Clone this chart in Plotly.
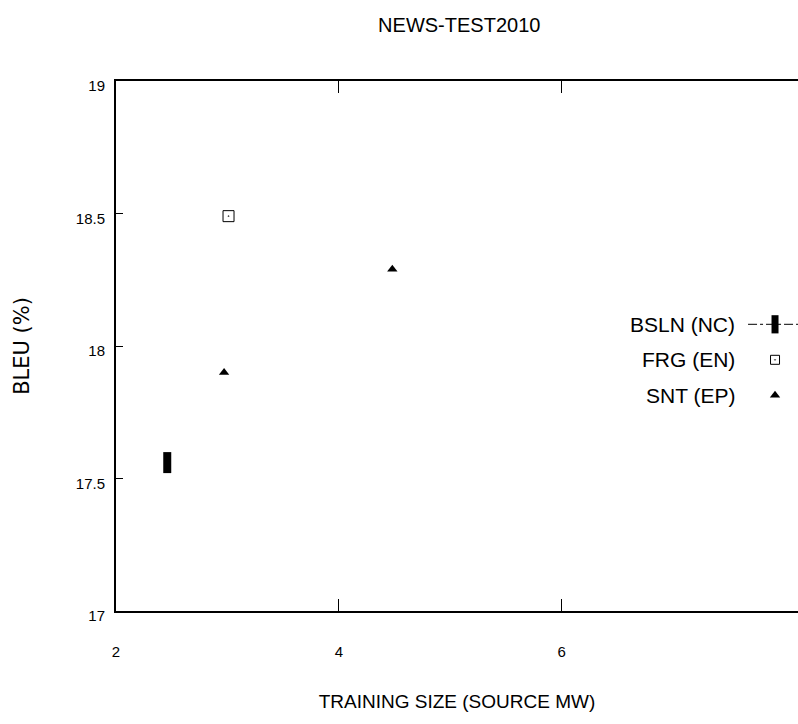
import plotly.graph_objects as go

# ---- data ----
series_names = ["BSLN (NC)", "FRG (EN)", "SNT (EP)"]
bsln_x = [2.46]
bsln_y = [17.56]
frg_x = [3.01]
frg_y = [18.49]
snt_x = [2.97, 4.48]
snt_y = [17.90, 18.29]
x_ticks = [2, 4, 6]
y_ticks = [17, 17.5, 18, 18.5, 19]
y_tick_text = ["17", "17.5", "18", "18.5", "19"]

SANS = "Liberation Sans, Arial, sans-serif"

W, H = 798, 724
L = 115.5
T = 80.7
R = 0
B = H - 610.7
plot_w = W - L - R
plot_h = H - T - B

styles = [
    dict(mode="lines+markers", line=dict(color="black", width=1, dash="dashdot"),
         marker=dict(symbol="line-ns", size=15, color="black", line=dict(width=8, color="black"))),
    dict(mode="markers",
         marker=dict(symbol="square-open-dot", size=11, color="black", line=dict(width=1, color="black"))),
    dict(mode="markers",
         marker=dict(symbol="triangle-up", size=9, color="black", line=dict(width=0))),
]
legend_styles = [
    dict(symbol="line-ns", size=13, color="black", line=dict(width=7, color="black")),
    dict(symbol="square-open-dot", size=9, color="black", line=dict(width=1, color="black")),
    dict(symbol="triangle-up", size=9, color="black", line=dict(width=0)),
]

fig = go.Figure()
for name, xs, ys, st in zip(series_names, [bsln_x, frg_x, snt_x], [bsln_y, frg_y, snt_y], styles):
    fig.add_trace(go.Scatter(x=xs, y=ys, name=name, showlegend=False, cliponaxis=False, **st))

# ---- custom legend (text left of key, right-aligned) on a hidden overlay axis ----
row_top_px = 324.0
row_gap_px = 35.5
key_px = 775.0
text_right_px = 737.0
line_start_px = 748.0
def fx(px):
    return (px - L) / plot_w
y2_range = [(row_top_px - (T + plot_h)) / row_gap_px, (row_top_px - T) / row_gap_px]

for i, name in enumerate(series_names):
    yv = -i
    if i == 0:
        fig.add_trace(go.Scatter(x=[fx(line_start_px), fx(W)], y=[yv, yv], mode="lines",
                                 line=dict(color="black", width=1, dash="dashdot"),
                                 xaxis="x2", yaxis="y2", showlegend=False, hoverinfo="skip",
                                 cliponaxis=False))
    fig.add_trace(go.Scatter(x=[fx(key_px)], y=[yv], mode="markers", marker=legend_styles[i],
                             xaxis="x2", yaxis="y2", showlegend=False, hoverinfo="skip",
                             cliponaxis=False))
    fig.add_annotation(x=fx(text_right_px), y=yv, xref="x2", yref="y2", text=name,
                       showarrow=False, xanchor="right", yanchor="middle",
                       font=dict(family=SANS, size=21, color="black"))

fig.update_layout(
    template="none",
    width=W, height=H,
    margin=dict(l=L, r=R, t=T, b=B, pad=0, autoexpand=False),
    paper_bgcolor="white", plot_bgcolor="white",
    showlegend=False,
    title=dict(text="NEWS-TEST2010", x=(459 - L) / plot_w, xref="paper", xanchor="center",
               y=1 - 25 / H, yref="container", yanchor="middle",
               font=dict(family=SANS, size=20, color="black")),
    xaxis=dict(range=[2, 2 + (x_ticks[1] - x_ticks[0]) * plot_w / 223.0],
               tickvals=x_ticks, ticktext=[str(v) for v in x_ticks],
               ticks="inside", ticklen=12, tickwidth=1, tickcolor="black",
               showline=True, linecolor="black", linewidth=2, mirror="ticks",
               showgrid=False, zeroline=False, automargin=False,
               ticklabelstandoff=26,
               tickfont=dict(family=SANS, size=15, color="black"),
               title=dict(text="TRAINING SIZE (SOURCE MW)", standoff=36,
                          font=dict(family=SANS, size=19, color="black"))),
    yaxis=dict(range=[17, 19], tickvals=y_ticks, ticktext=y_tick_text,
               ticks="inside", ticklen=7, tickwidth=1, tickcolor="black",
               showline=True, linecolor="black", linewidth=2, mirror=False,
               showgrid=False, zeroline=False, automargin=False,
               ticklabelstandoff=6, ticklabelshift=5,
               tickfont=dict(family=SANS, size=15, color="black"),
               title=dict(text="BLEU (%)", standoff=40,
                          font=dict(family="DejaVu Sans", size=21, color="black"))),
    xaxis2=dict(domain=[0, 1], range=[0, 1], anchor="y2", overlaying="x", visible=False,
                automargin=False),
    yaxis2=dict(domain=[0, 1], range=y2_range, anchor="x2", overlaying="y", visible=False,
                automargin=False),
)

fig.write_html(
    "out.html",
    config={"displayModeBar": False},
    post_script="document.body.style.margin='0';document.body.style.overflow='hidden';",
)
